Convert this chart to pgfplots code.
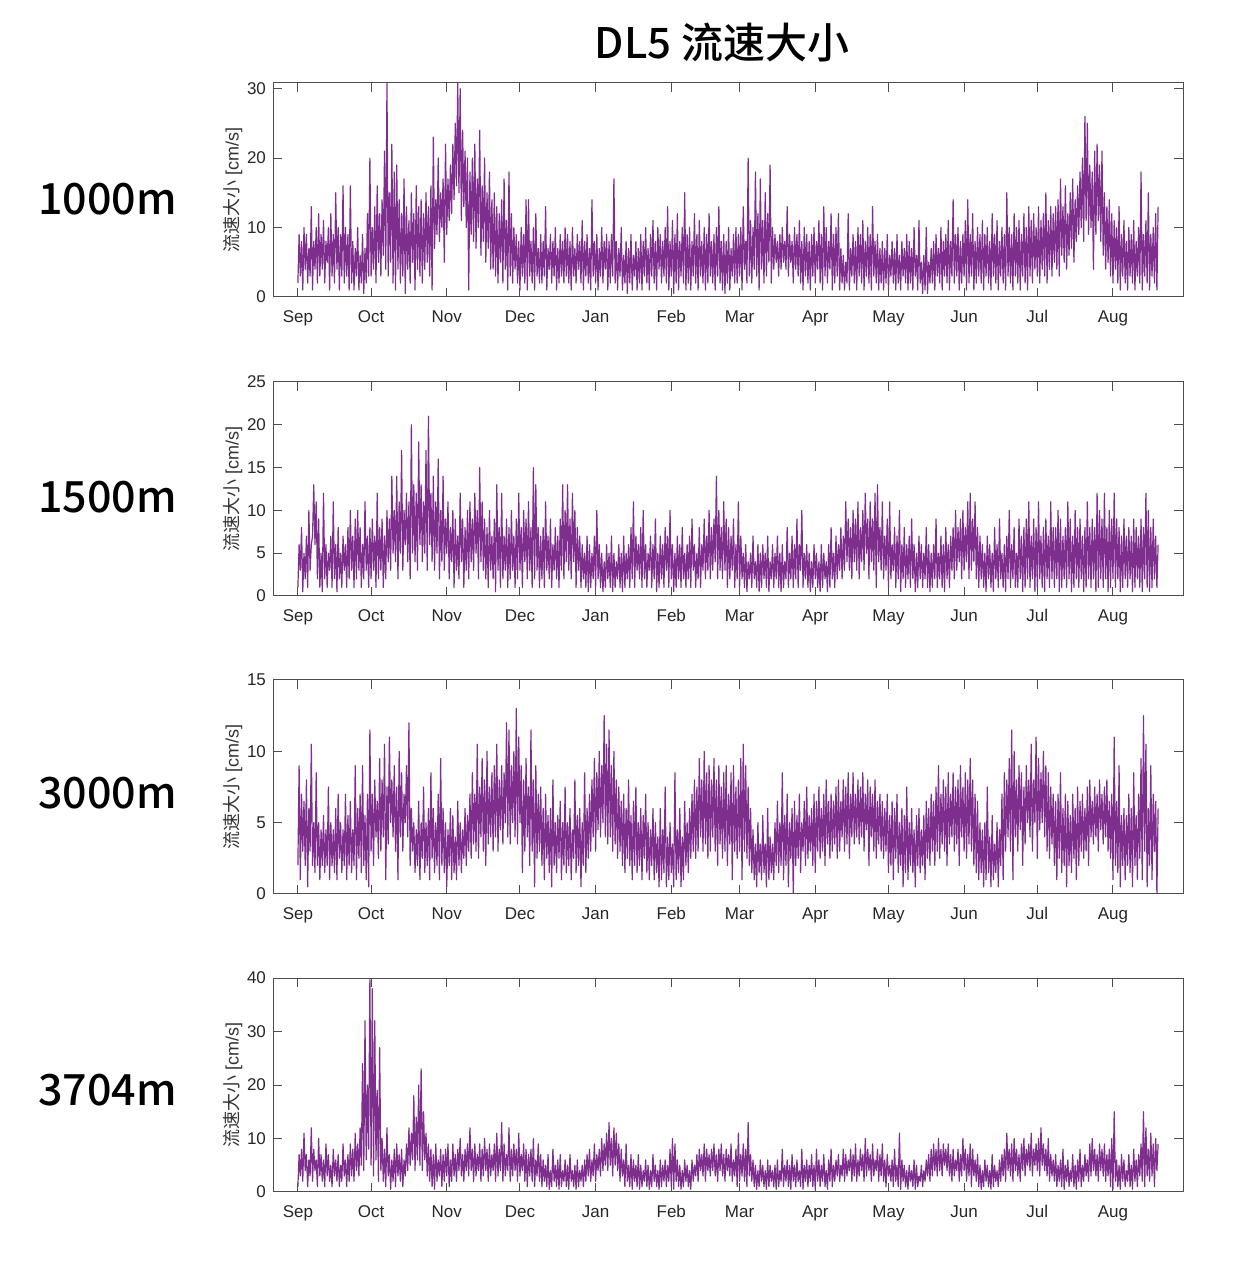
\documentclass[border=0pt]{standalone}
\usepackage{pgfplots}
\usepackage{pgfplotstable}
\pgfplotsset{compat=1.18}
\usepackage{fontspec}
\setmainfont{Liberation Sans}
\newfontfamily\cjk{Noto Sans CJK SC}
\newfontfamily\cjkm{Noto Sans CJK SC}[UprightFont=* Medium]
\definecolor{lineco}{RGB}{126,47,142}

\pgfplotstableread[header=false,row sep=\\]{
2\\9\\3\\8\\1\\10\\4\\9\\2\\7\\3\\13\\1\\8\\4\\10\\2\\12\\3\\9\\
4\\11\\2\\8\\5\\10\\1\\12\\3\\9\\2\\15\\4\\10\\1\\9\\3\\16\\2\\10\\
3\\9\\1\\16\\2\\8\\1\\7\\3\\10\\1\\6\\2\\9\\0.5\\7\\2\\12\\3\\20\\
3\\10\\4\\13\\2\\16\\5\\12\\3\\14\\6\\21\\4\\30.8\\3\\15\\5\\22\\2\\18\\
1\\19\\4\\14\\2\\12\\3\\17\\0.5\\13\\4\\11\\2\\15\\5\\12\\1\\16\\4\\13\\
3\\14\\2\\12\\4\\15\\5\\13\\3\\16\\1\\23\\7\\14\\9\\20\\8\\15\\10\\17\\
5\\22\\9\\17\\11\\19\\12\\22\\14\\25\\16\\30.8\\15\\30\\11\\24\\13\\21\\10\\20\\
1\\18\\9\\20\\8\\22\\7\\17\\10\\24\\6\\16\\8\\20\\5\\15\\7\\18\\4\\14\\
4\\15\\3\\13\\2\\12\\5\\14\\2\\17\\4\\11\\1\\18\\3\\12\\2\\10\\4\\9\\
2\\8\\1\\10\\3\\9\\2\\14\\1\\14\\3\\8\\2\\10\\1\\12\\3\\7\\2\\9\\
2\\8\\3\\13\\1\\7\\4\\9\\2\\8\\3\\10\\1\\7\\2\\9\\3\\8\\2\\10\\
3\\9\\2\\8\\1\\10\\3\\7\\2\\9\\4\\8\\2\\11\\1\\8\\3\\9\\2\\7\\
1\\14\\3\\8\\2\\9\\1\\7\\3\\10\\2\\8\\4\\9\\1\\8\\2\\9\\3\\17\\
2\\8\\1\\7\\3\\10\\1\\6\\2\\8\\0.5\\7\\2\\9\\1\\6\\3\\8\\1\\7\\
2\\9\\1\\8\\3\\10\\2\\7\\1\\9\\3\\11\\2\\8\\1\\10\\4\\9\\2\\8\\
3\\10\\2\\13\\1\\8\\3\\11\\0.5\\9\\2\\12\\1\\8\\3\\10\\2\\15\\1\\9\\
2\\10\\1\\8\\3\\12\\2\\9\\1\\11\\3\\8\\2\\10\\1\\9\\2\\12\\3\\8\\
2\\9\\1\\10\\3\\13\\2\\8\\1\\9\\0.5\\8\\2\\10\\1\\7\\3\\9\\2\\10\\
2\\9\\3\\10\\1\\13\\4\\8\\2\\20\\3\\11\\2\\10\\4\\18\\3\\12\\1\\17\\
4\\11\\2\\15\\3\\12\\5\\19\\2\\10\\4\\9\\5\\8\\3\\9\\4\\10\\5\\8\\
4\\13\\3\\9\\5\\8\\2\\10\\4\\9\\3\\11\\2\\8\\1\\10\\3\\9\\2\\8\\
1\\9\\3\\10\\2\\8\\4\\11\\2\\9\\1\\13\\3\\10\\2\\8\\4\\12\\1\\9\\
2\\10\\3\\12\\1\\7\\2\\6\\1\\5\\2\\12\\1\\7\\3\\9\\2\\8\\1\\10\\
3\\9\\2\\11\\1\\8\\3\\10\\2\\9\\1\\13\\3\\8\\2\\9\\1\\7\\2\\8\\
1\\7\\2\\9\\1\\6\\3\\8\\2\\7\\1\\9\\2\\6\\1\\8\\3\\7\\2\\9\\
1\\8\\2\\7\\1\\10\\3\\6\\1\\11\\2\\5\\0.5\\6\\1\\10\\0.5\\5\\2\\7\\
2\\8\\1\\9\\3\\7\\2\\10\\1\\8\\3\\9\\2\\11\\1\\8\\3\\14\\2\\9\\
3\\10\\1\\8\\2\\9\\3\\11\\1\\14\\2\\9\\3\\12\\1\\8\\2\\10\\3\\9\\
2\\11\\1\\9\\3\\10\\2\\8\\1\\12\\3\\9\\2\\11\\1\\8\\3\\10\\2\\9\\
1\\15\\3\\10\\2\\9\\1\\12\\3\\10\\2\\11\\1\\9\\3\\12\\2\\10\\1\\13\\
3\\11\\2\\12\\4\\10\\3\\13\\2\\11\\4\\12\\3\\15\\2\\11\\4\\13\\3\\12\\
5\\13\\4\\14\\3\\17\\6\\13\\5\\16\\4\\12\\6\\15\\7\\17\\5\\14\\8\\16\\
9\\18\\10\\20\\8\\26\\11\\25\\9\\19\\10\\18\\4\\21\\9\\22\\11\\19\\8\\21\\
6\\15\\4\\13\\5\\14\\3\\12\\2\\11\\4\\10\\2\\13\\1\\9\\3\\11\\2\\8\\
1\\10\\3\\9\\2\\11\\1\\8\\3\\10\\2\\18\\1\\9\\3\\11\\2\\15\\1\\9\\
3\\10\\2\\12\\1\\13\\
}\dA

\pgfplotstableread[header=false,row sep=\\]{
1\\6\\3\\8\\0.5\\5\\2\\7\\1\\10\\3\\6\\7\\13\\6\\11\\2\\9\\1\\5\\
0.5\\12\\2\\6\\1\\5\\3\\7\\1\\11\\2\\6\\0.5\\8\\2\\5\\1\\7\\3\\6\\
1\\8\\2\\10\\3\\7\\1\\9\\2\\10\\3\\8\\1\\6\\2\\11\\3\\7\\1\\8\\
2\\9\\3\\7\\1\\12\\2\\8\\3\\9\\1\\7\\2\\10\\4\\9\\3\\14\\5\\10\\
4\\14\\2\\11\\5\\17\\3\\10\\6\\12\\4\\11\\2\\20\\5\\13\\4\\12\\3\\18\\
6\\13\\4\\11\\5\\17\\3\\21\\6\\12\\4\\14\\3\\11\\5\\16\\2\\10\\4\\14\\
3\\9\\5\\11\\2\\8\\4\\10\\1\\9\\3\\7\\2\\12\\4\\9\\1\\8\\3\\10\\
2\\11\\4\\9\\3\\12\\5\\10\\2\\15\\4\\11\\3\\9\\2\\8\\1\\10\\3\\7\\
2\\9\\0.5\\13\\3\\8\\1\\12\\2\\7\\3\\9\\1\\8\\2\\10\\3\\7\\1\\9\\
2\\12\\3\\8\\1\\10\\4\\9\\2\\11\\3\\8\\1\\15\\2\\13\\3\\8\\1\\7\\
2\\8\\1\\11\\3\\7\\2\\9\\1\\6\\3\\8\\2\\7\\1\\9\\3\\13\\2\\10\\
4\\13\\3\\9\\2\\12\\4\\10\\1\\8\\3\\7\\1\\6\\2\\5\\1\\7\\0.5\\6\\
1\\5\\2\\7\\1\\10\\2\\6\\1\\5\\0.5\\4\\1\\6\\2\\5\\1\\7\\0.5\\5\\
1\\4\\2\\6\\1\\5\\0.5\\7\\1\\5\\2\\6\\1\\8\\2\\11\\1\\7\\3\\6\\
2\\8\\1\\10\\2\\6\\1\\5\\3\\7\\1\\6\\2\\9\\0.5\\5\\1\\7\\2\\6\\
1\\8\\3\\7\\1\\10\\2\\6\\0.5\\5\\1\\7\\2\\6\\1\\8\\2\\5\\1\\6\\
2\\7\\1\\9\\3\\6\\1\\5\\2\\8\\1\\6\\3\\9\\2\\7\\3\\10\\2\\8\\
3\\9\\4\\14\\2\\10\\3\\8\\2\\11\\3\\9\\1\\8\\2\\7\\3\\9\\1\\6\\
2\\11\\1\\7\\2\\5\\1\\6\\0.5\\4\\2\\5\\1\\7\\2\\4\\1\\6\\0.5\\5\\
1\\6\\2\\5\\1\\7\\0.5\\4\\2\\6\\1\\5\\2\\7\\1\\5\\0.5\\6\\1\\4\\
2\\8\\1\\5\\2\\7\\1\\6\\2\\9\\1\\6\\3\\10\\1\\5\\2\\6\\1\\5\\
0.5\\4\\1\\6\\2\\5\\1\\4\\0.5\\6\\1\\5\\2\\4\\0.5\\6\\1\\8\\2\\5\\
1\\7\\2\\6\\3\\8\\2\\7\\3\\11\\4\\9\\3\\8\\2\\10\\4\\9\\3\\11\\
2\\8\\4\\10\\3\\12\\5\\9\\2\\11\\4\\9\\3\\12\\1\\13\\4\\8\\3\\11\\
2\\7\\3\\9\\1\\11\\2\\6\\3\\8\\1\\7\\2\\10\\0.5\\6\\2\\8\\1\\6\\
2\\7\\1\\9\\2\\6\\0.5\\5\\1\\7\\2\\6\\1\\5\\2\\8\\1\\6\\0.5\\5\\
1\\6\\2\\9\\1\\5\\2\\7\\1\\6\\0.5\\8\\2\\6\\1\\7\\3\\8\\2\\10\\
3\\8\\4\\9\\2\\10\\3\\8\\4\\11\\2\\12\\3\\9\\4\\11\\2\\8\\1\\7\\
2\\6\\1\\5\\0.5\\7\\2\\6\\1\\5\\0.5\\8\\2\\6\\1\\9\\2\\5\\1\\6\\
0.5\\7\\2\\10\\1\\6\\2\\8\\1\\5\\1\\9\\2\\7\\0.5\\8\\1\\9\\2\\11\\
1\\7\\2\\9\\0.5\\8\\1\\11\\2\\7\\1\\8\\0.5\\9\\2\\7\\1\\11\\2\\8\\
1\\8\\2\\10\\0.5\\9\\1\\7\\2\\8\\1\\11\\2\\9\\0.5\\7\\1\\10\\2\\8\\
1\\9\\2\\7\\0.5\\8\\1\\11\\2\\8\\1\\9\\2\\8\\0.5\\12\\1\\10\\2\\9\\
1\\12\\2\\8\\0.5\\10\\1\\9\\2\\12\\1\\9\\2\\8\\0.5\\7\\1\\9\\2\\7\\
1\\8\\2\\7\\0.5\\9\\1\\8\\2\\7\\1\\9\\0.5\\8\\2\\12\\1\\10\\0.5\\8\\
1\\9\\2\\7\\1\\6\\
}\dB

\pgfplotstableread[header=false,row sep=\\]{
2\\9\\1\\7\\3\\6.5\\2\\8\\0.5\\6\\3\\10.5\\2\\5\\1.5\\8.5\\2\\5\\1\\4.5\\
2\\5.5\\1.5\\4.5\\2\\7.5\\1\\5\\2\\4.5\\1.5\\6\\1\\7\\2.5\\5\\1.5\\4.5\\2\\7\\
1\\5.5\\2\\6.5\\1.5\\4.5\\2\\9\\1\\6\\2.5\\7\\1.5\\9\\2\\5.5\\1\\7\\0.5\\11.5\\
3\\7\\2\\8\\4\\6.5\\2.5\\9.5\\3\\8\\4\\10.5\\1\\7.5\\3.5\\11\\5\\8\\4\\9\\
3\\7.5\\1\\10\\4\\8.5\\3\\7\\5\\9\\4\\12\\2\\6\\3\\5\\1.5\\4.5\\2\\6.5\\
1\\5\\2.5\\7.5\\1.5\\5\\2\\6\\1\\8.5\\2.5\\6\\1.5\\5\\2\\7\\1\\9.5\\2\\6\\
1.5\\5\\0.5\\4.5\\2\\6\\1\\5.5\\1.5\\4\\1\\6.5\\2\\5\\1.5\\4.5\\2.5\\6\\2\\5.5\\
3\\7\\2.5\\8.5\\3.5\\7\\3\\10.5\\2.5\\7.5\\4\\9.5\\3\\8\\2\\10\\3.5\\7.5\\4\\8.5\\
3\\9\\4\\10.5\\3\\8\\4.5\\9\\3.5\\8.5\\5\\12\\4\\11.5\\3.5\\9\\5\\10\\4\\13\\
3.5\\11\\5\\9\\1.5\\8\\3\\9.5\\4\\7.5\\2\\11.5\\3\\8\\0.5\\9\\2.5\\7\\3\\7.5\\
2\\6\\1\\7\\2.5\\5.5\\1.5\\6\\0.5\\8\\2\\5\\1.5\\5.5\\2.5\\6.5\\1\\5\\2\\7.5\\
1.5\\5\\2\\6\\1\\4.5\\2.5\\8\\1.5\\5.5\\2\\6\\0.5\\5\\2\\8.5\\1.5\\6\\2.5\\7\\
3\\8\\4\\9.5\\3\\8.5\\4.5\\10\\4\\9\\5\\12.5\\4\\10.5\\3.5\\11.5\\4\\9\\3\\10\\
3.5\\8\\2.5\\7.5\\3\\6.5\\2\\7\\1.5\\6\\2.5\\8\\2\\5.5\\1\\6.5\\2\\7.5\\1.5\\5\\
2\\6\\1\\5.5\\2.5\\7\\1.5\\5\\1\\4.5\\2\\6\\1\\5\\1.5\\4\\0.5\\6\\1\\4.5\\
1.5\\7.5\\0.5\\4\\1\\5\\1.5\\3.5\\0.5\\8.5\\1\\4.5\\1.5\\6\\0.5\\4\\1\\6.5\\2\\5\\
1.5\\6\\2.5\\7\\3\\8\\2.5\\7.5\\3\\9.5\\4\\8\\3\\10\\3.5\\8.5\\2.5\\9\\3\\8\\
4\\9.5\\3\\8\\2\\9\\3.5\\7.5\\2.5\\8.5\\3\\9\\2\\7\\3.5\\8.5\\1\\9\\3\\7.5\\
2.5\\8\\3\\9.5\\1\\10.5\\3\\9\\2.5\\7.5\\2\\6\\1.5\\4.5\\1\\3.5\\0.5\\5\\1.5\\3.5\\
1\\5.5\\1.5\\3.5\\0.5\\6\\1\\4\\1.5\\3.5\\1\\5\\2\\6.5\\1.5\\5\\2\\8.5\\1\\5.5\\
2\\7\\0.5\\5\\2.5\\6\\0\\6.5\\2\\5.5\\2.5\\7\\1.5\\5\\3\\6.5\\2\\7.5\\2.5\\5.5\\
3\\6\\2\\7\\1.5\\6.5\\3\\7.5\\2.5\\6\\3\\7\\2\\8\\3.5\\6.5\\2.5\\7\\3\\6.5\\
3.5\\7.5\\2.5\\8\\3\\6.5\\4\\8\\3\\7.5\\3.5\\8.5\\2.5\\7\\4\\8.5\\3.5\\7\\4\\8\\
3.5\\7.5\\4\\8.5\\3\\7\\4.5\\8\\2\\7.5\\4\\7\\3\\8\\2.5\\6.5\\3.5\\7\\3\\6.5\\
2.5\\6\\3\\7\\1.5\\5.5\\2\\6.5\\1\\6\\2.5\\7\\1.5\\5\\2\\6\\0.5\\5.5\\1.5\\7.5\\
1\\5\\2\\6\\1.5\\4.5\\0.5\\5.5\\2\\6\\1.5\\4.5\\2\\5.5\\1\\6.5\\2.5\\6\\2\\7\\
3\\6.5\\2\\7.5\\3\\9\\2.5\\7\\3.5\\8\\3\\7.5\\2\\8.5\\3.5\\7\\4\\8.5\\3\\7.5\\
3.5\\8\\2\\9\\4\\7.5\\3\\8.5\\2.5\\8\\3.5\\9.5\\3\\8\\2\\7\\1.5\\6.5\\1\\5\\
1.5\\4.5\\0.5\\5\\1\\7.5\\1.5\\4\\0.5\\5.5\\1\\3.5\\1.5\\5\\0.5\\4.5\\2\\7\\1\\8.5\\
3\\8\\4\\9.5\\3\\11.5\\1\\10\\4\\8\\3\\9\\4.5\\8.5\\2\\7.5\\3.5\\9\\5\\8\\
4\\10.5\\3\\8\\5\\11\\2.5\\9.5\\4.5\\8.5\\5\\10\\4\\9\\3\\8.5\\2.5\\7.5\\3.5\\7\\
2\\6.5\\1\\7\\2.5\\8.5\\1.5\\6\\2\\7\\0.5\\6.5\\2\\5.5\\1.5\\7\\2.5\\6\\1\\7.5\\
2\\6.5\\3\\7\\2.5\\6\\3\\7.5\\2\\8\\4\\6.5\\3.5\\7.5\\4\\7\\3\\8\\4.5\\7\\
3.5\\7.5\\4\\8\\3\\6.5\\2.5\\7\\1\\11\\2\\6.5\\1.5\\9\\0.5\\5.5\\2\\6\\1\\5.5\\
2\\7\\1.5\\6\\0.5\\8.5\\2\\5.5\\1\\7\\2.5\\9.5\\1\\12.5\\3\\10.5\\0.5\\6\\2\\9\\
1\\7\\3\\6.5\\0\\6\\
}\dC

\pgfplotstableread[header=false,row sep=\\]{
1\\7\\3\\8\\2\\11\\4\\7\\1\\6\\3\\12\\2\\8\\4\\6\\1\\10\\3\\7\\
2\\6\\1\\9\\3\\7\\2\\5\\1\\8\\3\\6\\2\\7\\1\\5\\2\\9\\3\\6\\
1\\7\\2\\9\\3\\8\\2\\11\\4\\9\\3\\12\\5\\24\\4\\32\\6\\20\\8\\40\\
5\\38\\3\\32\\6\\19\\2\\27\\4\\10\\2\\8\\1\\12\\3\\7\\0.5\\6\\2\\8\\
1\\9\\3\\7\\2\\8\\1\\6\\3\\9\\4\\12\\5\\11\\6\\18\\4\\14\\6\\20\\
5\\23\\4\\15\\6\\11\\3\\9\\2\\8\\1\\7\\0.5\\9\\2\\6\\3\\8\\1\\7\\
2\\8\\3\\9\\1\\6\\2\\9\\3\\7\\2\\8\\4\\10\\3\\7\\2\\8\\4\\9\\
3\\12\\4\\8\\2\\9\\3\\7\\4\\9\\2\\8\\3\\10\\4\\8\\2\\9\\3\\7\\
4\\9\\2\\11\\3\\8\\4\\13\\2\\9\\3\\7\\4\\12\\2\\8\\3\\9\\4\\8\\
2\\11\\3\\7\\4\\9\\2\\8\\1\\7\\3\\8\\2\\10\\1\\6\\3\\9\\2\\7\\
1\\6\\2\\5\\1\\7\\0.5\\4\\1\\8\\2\\5\\1\\6\\0.5\\7\\1\\4\\2\\6\\
1\\5\\0.5\\7\\2\\4\\1\\5\\0.5\\6\\1\\4\\2\\5\\1\\6\\2\\7\\3\\8\\
2\\6\\3\\9\\2\\7\\4\\8\\3\\10\\4\\9\\5\\11\\4\\13\\5\\10\\3\\12\\
5\\11\\4\\9\\2\\8\\3\\6\\1\\9\\2\\5\\1\\7\\0.5\\6\\2\\5\\1\\7\\
0.5\\5\\1\\4\\2\\6\\1\\5\\0.5\\4\\1\\7\\2\\5\\1\\4\\0.5\\6\\1\\5\\
2\\6\\1\\5\\2\\8\\1\\10\\0.5\\9\\2\\6\\1\\5\\0.5\\4\\1\\6\\2\\5\\
1\\4\\0.5\\6\\2\\5\\3\\7\\2\\8\\4\\7\\3\\9\\2\\8\\4\\7\\3\\8\\
4\\9\\3\\7\\2\\8\\4\\9\\3\\7\\2\\8\\4\\7\\3\\9\\2\\6\\3\\8\\
1\\11\\2\\7\\3\\9\\2\\8\\1\\13\\3\\7\\2\\6\\1\\5\\0.5\\4\\1\\6\\
2\\5\\1\\4\\0.5\\6\\1\\5\\2\\4\\1\\5\\0.5\\6\\1\\4\\2\\8\\1\\5\\
2\\6\\1\\5\\0.5\\7\\2\\5\\1\\6\\2\\4\\1\\8\\0.5\\5\\2\\6\\1\\5\\
2\\7\\1\\5\\0.5\\8\\2\\6\\1\\5\\2\\7\\1\\4\\0.5\\6\\2\\8\\1\\5\\
2\\6\\3\\7\\2\\5\\3\\8\\2\\7\\3\\6\\4\\8\\2\\7\\3\\9\\2\\6\\
3\\8\\4\\7\\2\\10\\3\\8\\4\\7\\2\\9\\3\\6\\4\\8\\2\\7\\3\\9\\
2\\6\\1\\7\\3\\5\\2\\6\\1\\8\\2\\5\\1\\11\\0.5\\6\\2\\5\\1\\4\\
0.5\\5\\2\\4\\1\\6\\0.5\\5\\1\\3\\2\\5\\1\\4\\2\\6\\3\\7\\2\\8\\
3\\9\\4\\8\\3\\10\\4\\8\\3\\9\\5\\8\\4\\9\\3\\7\\2\\8\\3\\6\\
4\\8\\2\\7\\3\\10\\4\\8\\2\\7\\3\\9\\1\\8\\3\\6\\2\\7\\1\\5\\
0.5\\4\\1\\6\\2\\5\\1\\4\\0.5\\7\\1\\5\\2\\4\\1\\6\\2\\7\\3\\8\\
2\\11\\4\\8\\3\\9\\2\\10\\4\\8\\3\\7\\2\\9\\4\\10\\3\\8\\5\\9\\
4\\11\\3\\8\\5\\9\\4\\10\\3\\12\\5\\9\\4\\8\\3\\10\\2\\7\\3\\6\\
2\\7\\1\\5\\2\\6\\1\\8\\0.5\\5\\2\\6\\1\\4\\2\\7\\1\\5\\0.5\\6\\
2\\8\\1\\5\\2\\7\\3\\6\\2\\9\\3\\10\\4\\8\\3\\7\\2\\9\\4\\8\\
3\\9\\2\\7\\3\\8\\1\\10\\0.5\\15\\2\\6\\1\\5\\0.5\\7\\2\\6\\1\\4\\
2\\7\\1\\5\\0.5\\8\\2\\6\\1\\7\\3\\9\\2\\15\\1\\12\\3\\8\\2\\11\\
3\\9\\1\\10\\4\\9\\
}\dD

\pgfplotsset{panel/.style={
  scale only axis, width=455pt, height=107pt, anchor=south west,
  xmin=-10.2, xmax=362.7, ymin=0,
  xtick={0,30,61,91,122,153,181,212,242,273,303,334},
  xticklabels={Sep,Oct,Nov,Dec,Jan,Feb,Mar,Apr,May,Jun,Jul,Aug},
  tick align=inside, tick pos=both, major tick length=4.5pt,
  axis line style={draw=black!70, line width=0.5pt},
  tick style={draw=black!70, line width=0.5pt},
  tick label style={font=\fontsize{8.5}{10}\selectfont, text=black!85},
  xticklabel style={text height=6.5pt, text depth=2pt, yshift=-2.5pt},
  /pgf/number format/assume math mode=true,
  ylabel={{\cjk 流速大小} [cm/s]},
  every axis y label/.style={at={(axis description cs:0,0.5)}, xshift=-20pt, rotate=90, anchor=center, font=\fontsize{9}{10}\selectfont, text=black!80},
}}
\pgfplotsset{dline/.style={color=lineco, line width=0.6pt, line join=round}}

\begin{document}
\begin{tikzpicture}
\useasboundingbox (0,0) rectangle (624pt,640pt);
\node[font=\cjkm\fontsize{21}{24}\selectfont] at (361pt,618.75pt) {DL5 流速大小};
\node[font=\cjkm\fontsize{21.5}{24}\selectfont] at (53.75pt,540.5pt) {1000m};
\node[font=\cjkm\fontsize{21.5}{24}\selectfont] at (53.75pt,391.5pt) {1500m};
\node[font=\cjkm\fontsize{21.5}{24}\selectfont] at (53.75pt,243.5pt) {3000m};
\node[font=\cjkm\fontsize{21.5}{24}\selectfont] at (53.75pt,95pt) {3704m};

\begin{axis}[panel, at={(136.5pt,491.5pt)}, ymax=30.8, ytick={0,10,20,30}]
\addplot[dline] table[x expr=\coordindex*0.5, y index=0] {\dA};
\end{axis}
\begin{axis}[panel, at={(136.5pt,342pt)}, ymax=25, ytick={0,5,10,15,20,25}]
\addplot[dline] table[x expr=\coordindex*0.5, y index=0] {\dB};
\end{axis}
\begin{axis}[panel, at={(136.5pt,193pt)}, ymax=15, ytick={0,5,10,15}]
\addplot[dline] table[x expr=\coordindex*0.5, y index=0] {\dC};
\end{axis}
\begin{axis}[panel, at={(136.5pt,44pt)}, ymax=40, ytick={0,10,20,30,40}]
\addplot[dline] table[x expr=\coordindex*0.5, y index=0] {\dD};
\end{axis}
\end{tikzpicture}
\end{document}
